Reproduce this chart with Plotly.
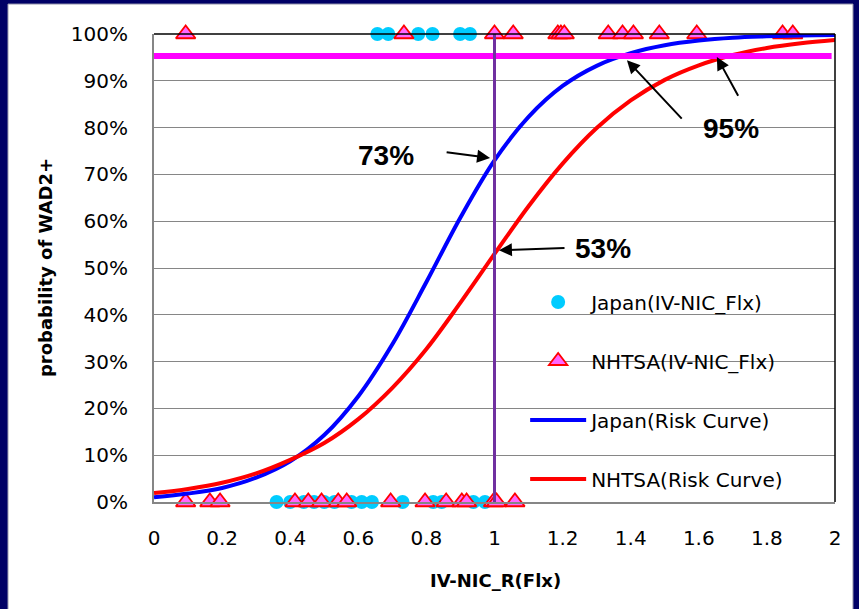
import plotly.graph_objects as go

# ---------------- data ----------------
curve_x = [0.0, 0.1, 0.2, 0.3, 0.4, 0.5, 0.6, 0.7, 0.8, 0.9, 1.0,
           1.1, 1.2, 1.3, 1.4, 1.5, 1.6, 1.7, 1.8, 1.9, 2.0]
japan_curve = [0.010, 0.018, 0.030, 0.052, 0.087, 0.143, 0.226, 0.337, 0.470, 0.608, 0.730,
               0.823, 0.889, 0.932, 0.959, 0.976, 0.986, 0.992, 0.995, 0.997, 0.998]
nhtsa_curve = [0.019, 0.028, 0.041, 0.061, 0.090, 0.126, 0.177, 0.244, 0.327, 0.426, 0.530,
               0.632, 0.723, 0.799, 0.858, 0.902, 0.933, 0.955, 0.970, 0.980, 0.987]

japan_pts_x1 = [0.656, 0.688, 0.776, 0.818, 0.899, 0.928]
japan_pts_x0 = [0.36, 0.40, 0.44, 0.47, 0.50, 0.53, 0.58, 0.61, 0.64, 0.73, 0.82, 0.845, 0.938, 0.972]
nhtsa_pts_x1 = [0.093, 0.734, 1.0, 1.055, 1.186, 1.195, 1.205, 1.334, 1.376, 1.408, 1.484,
                1.594, 1.846, 1.876]
nhtsa_pts_x0 = [0.093, 0.164, 0.194, 0.414, 0.453, 0.492, 0.541, 0.566, 0.695, 0.796, 0.858,
                0.904, 0.918, 0.997, 1.006, 1.06]

threshold_x = [-0.005, 1.99]
threshold_y = 0.953
ref_x = 1.0
ref_y = [0.0, 1.01]

x_ticks = [0, 0.2, 0.4, 0.6, 0.8, 1.0, 1.2, 1.4, 1.6, 1.8, 2.0]
x_tick_labels = ["0", "0.2", "0.4", "0.6", "0.8", "1", "1.2", "1.4", "1.6", "1.8", "2"]
y_ticks = [0, 0.1, 0.2, 0.3, 0.4, 0.5, 0.6, 0.7, 0.8, 0.9, 1.0]
y_tick_labels = ["0%", "10%", "20%", "30%", "40%", "50%", "60%", "70%", "80%", "90%", "100%"]

# ---------------- figure ----------------
TICKFONT = dict(family="DejaVu Sans, sans-serif", size=20, color="black")

fig = go.Figure()

fig.add_trace(go.Scatter(
    x=japan_pts_x1 + japan_pts_x0,
    y=[1.0] * len(japan_pts_x1) + [0.0] * len(japan_pts_x0),
    mode="markers", name="Japan(IV-NIC_Flx)", legendgroup="a",
    marker=dict(symbol="circle", size=14, color="#00CCFF", line=dict(width=0)),
    cliponaxis=False,
))
fig.add_trace(go.Scatter(
    x=nhtsa_pts_x1 + nhtsa_pts_x0,
    y=[1.0] * len(nhtsa_pts_x1) + [0.0] * len(nhtsa_pts_x0),
    mode="markers", name="NHTSA(IV-NIC_Flx)", legendgroup="b",
    marker=dict(symbol="triangle-up", size=17, color="#FF66FF",
                line=dict(width=1.8, color="#FF0000")),
    cliponaxis=False,
))
fig.add_trace(go.Scatter(
    x=curve_x, y=japan_curve, mode="lines", name="Japan(Risk Curve)", legendgroup="c",
    line=dict(color="#0000FF", width=4, shape="spline"), cliponaxis=False,
))
fig.add_trace(go.Scatter(
    x=curve_x, y=nhtsa_curve, mode="lines", name="NHTSA(Risk Curve)", legendgroup="d",
    line=dict(color="#FF0000", width=4, shape="spline"), cliponaxis=False,
))
fig.add_trace(go.Scatter(
    x=threshold_x, y=[threshold_y] * len(threshold_x), mode="lines", showlegend=False,
    line=dict(color="#FF00FF", width=6), cliponaxis=False, hoverinfo="skip",
))
fig.add_trace(go.Scatter(
    x=[ref_x] * len(ref_y), y=ref_y, mode="lines", showlegend=False,
    line=dict(color="#7030A0", width=3), cliponaxis=False, hoverinfo="skip",
))

# borders
fig.add_shape(type="rect", xref="paper", yref="paper",
              x0=-0.2144, x1=1.0264, y0=-0.26, y1=1.064,
              fillcolor="white", line=dict(color="#9a9ab0", width=1), layer="below")
fig.add_shape(type="line", xref="paper", yref="paper", x0=0, x1=1, y0=1, y1=1,
              line=dict(color="black", width=1.5))
fig.add_shape(type="line", xref="paper", yref="paper", x0=1, x1=1, y0=0, y1=1,
              line=dict(color="black", width=1.5))

ANN_FONT = dict(family="Liberation Sans, Arial, sans-serif", size=28, color="black")
annotations = [
    dict(x=0.681, y=0.741, text="<b>73%</b>", showarrow=False, font=ANN_FONT),
    dict(x=1.319, y=0.541, text="<b>53%</b>", showarrow=False, font=ANN_FONT),
    dict(x=1.695, y=0.799, text="<b>95%</b>", showarrow=False, font=ANN_FONT),
]
arrows = [
    (0.987, 0.735, 0.855, 0.748),
    (1.013, 0.538, 1.21, 0.543),
    (1.389, 0.944, 1.554, 0.816),
    (1.653, 0.951, 1.718, 0.865),
]
for hx, hy, tx, ty in arrows:
    annotations.append(dict(x=hx, y=hy, ax=tx, ay=ty, xref="x", yref="y",
                            axref="x", ayref="y", text="", showarrow=True,
                            arrowhead=2, arrowsize=1.3, arrowwidth=2, arrowcolor="black"))
annotations.append(dict(x=-0.160, y=0.5, xref="paper", yref="paper", text="<b>probability of WAD2+</b>",
                        textangle=-90, showarrow=False, xanchor="center", yanchor="middle",
                        font=dict(family="DejaVu Sans, sans-serif", size=18, color="black")))
annotations.append(dict(x=0.502, y=-0.1667, xref="paper", yref="paper", text="<b>IV-NIC_R(Flx)</b>",
                        showarrow=False, xanchor="center", yanchor="middle",
                        font=dict(family="DejaVu Sans, sans-serif", size=18, color="black")))

fig.update_layout(
    width=859, height=609,
    margin=dict(l=154, r=24, t=34, b=107),
    paper_bgcolor="#000066",
    plot_bgcolor="white",
    annotations=annotations,
    showlegend=True,
    legend=dict(x=0.545, y=0.469, xanchor="left", yanchor="top",
                bgcolor="rgba(0,0,0,0)", borderwidth=0,
                font=dict(family="DejaVu Sans, sans-serif", size=20, color="black"),
                tracegroupgap=30, itemwidth=56),
    xaxis=dict(range=[0, 2], tickvals=x_ticks, ticktext=x_tick_labels, showgrid=False,
               zeroline=False, showline=True, linecolor="#868686", linewidth=2,
               ticks="", tickfont=TICKFONT, ticklabelstandoff=17),
    yaxis=dict(range=[0, 1], tickvals=y_ticks, ticktext=y_tick_labels, showgrid=True,
               gridcolor="#868686", gridwidth=1.3, zeroline=False, showline=True,
               linecolor="#868686", linewidth=2, ticks="", tickfont=TICKFONT,
               ticklabelstandoff=20),
)

fig.write_html("out.html")
